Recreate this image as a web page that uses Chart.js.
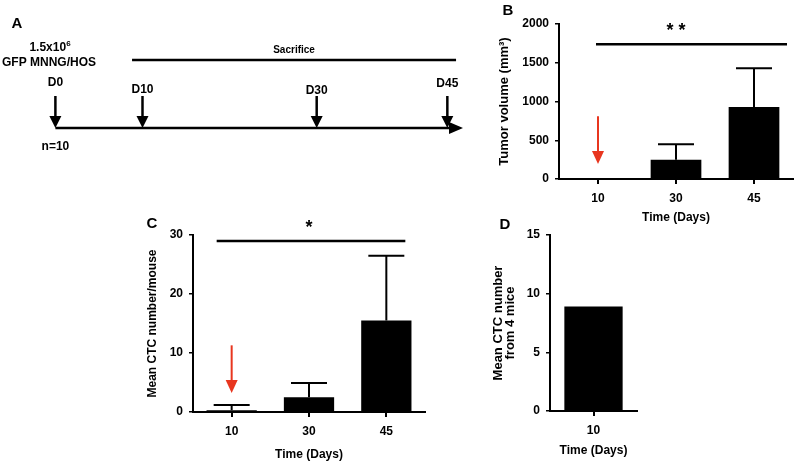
<!DOCTYPE html>
<html>
<head>
<meta charset="utf-8">
<script src="https://cdn.jsdelivr.net/npm/chart.js@4"></script>
<style>
body { margin: 0; background: #fff; }
#page { position: relative; width: 796px; height: 463px; overflow: hidden; font-family: 'Liberation Sans', Arial, sans-serif; }
canvas { position: absolute; }
.panel { position: absolute; font-weight: bold; font-size: 15px; line-height: 1; transform: translate(-50%, -50%); }
</style>
</head>
<body>
<div id="page">
  <canvas id="timeline" width="480" height="165" style="left:0;top:0"></canvas>
  <canvas id="tumorChart" width="316" height="230" style="left:480px;top:0"></canvas>
  <canvas id="ctcChart" width="300" height="273" style="left:130px;top:190px"></canvas>
  <canvas id="miceChart" width="170" height="248" style="left:490px;top:215px"></canvas>
  <div class="panel" style="left:17px;top:22px">A</div>
  <div class="panel" style="left:508px;top:9px">B</div>
  <div class="panel" style="left:152px;top:222px">C</div>
  <div class="panel" style="left:505px;top:223px">D</div>
</div>
<script>
// data
const days = ['10', '30', '45'];
const tumorVolume = [0, 250, 930];
const tumorVolumeSD = [0, 200, 500];
const ctcMouse = [0.3, 2.5, 15.5];
const ctcMouseSD = [0.9, 2.4, 11];
const miceDays = ['10'];
const ctcFourMice = [8.9];
const tumorTicks = [0, 500, 1000, 1500, 2000];
const ctcTicks = [0, 10, 20, 30];
const miceTicks = [0, 5, 10, 15];
const timelineDays = [0, 10, 30, 45];
const timelineLabels = ['D0', 'D10', 'D30', 'D45'];
const sacrificeFrom = 8.8, sacrificeTo = 46, timelineEnd = 46.8;
// significance bars and red arrows, in axis units
const tumorSig = 1740;
const ctcSig = 29;
const tumorArrow = [810, 195];
const ctcArrow = [11.3, 3.2];

const FONT = "'Liberation Sans', Arial, sans-serif";
Chart.defaults.font.family = FONT;
Chart.defaults.font.weight = 'bold';
Chart.defaults.color = '#000';

function downArrow(ctx, x, top, tip, half, head, lw, color) {
    ctx.strokeStyle = color;
    ctx.fillStyle = color;
    ctx.lineWidth = lw;
    ctx.beginPath();
    ctx.moveTo(x, top);
    ctx.lineTo(x, tip - head + 1);
    ctx.stroke();
    ctx.beginPath();
    ctx.moveTo(x - half, tip - head);
    ctx.lineTo(x + half, tip - head);
    ctx.lineTo(x, tip);
    ctx.closePath();
    ctx.fill();
}

//panel A timeline
const timelinePlugin = {
    id: 'timelineDraw',
    afterDatasetsDraw(chart) {
        const ctx = chart.ctx;
        const x = chart.scales.x;
        const pts = chart.getDatasetMeta(0).data;
        const lineY = 128;
        const labelY = [83, 90, 91, 84];
        ctx.save();
        ctx.strokeStyle = '#000';
        ctx.fillStyle = '#000';
        ctx.lineWidth = 2.5;
        const endX = x.getPixelForValue(timelineEnd);
        ctx.beginPath();
        ctx.moveTo(pts[0].x, lineY);
        ctx.lineTo(endX - 10, lineY);
        ctx.stroke();
        ctx.beginPath();
        ctx.moveTo(endX, lineY);
        ctx.lineTo(endX - 14, lineY - 6);
        ctx.lineTo(endX - 14, lineY + 6);
        ctx.closePath();
        ctx.fill();

        ctx.font = 'bold 12px ' + FONT;
        ctx.textAlign = 'center';
        ctx.textBaseline = 'middle';
        pts.forEach((p, i) => {
            downArrow(ctx, p.x, 96, lineY, 6, 12, 2.5, '#000');
            ctx.fillText(timelineLabels[i], p.x, labelY[i]);
        });
        ctx.fillText('n=10', pts[0].x, 147);
        ctx.fillText('GFP MNNG/HOS', 49, 63);
        // 1.5x10^6
        const base = '1.5x10';
        const w1 = ctx.measureText(base).width;
        ctx.font = 'bold 8px ' + FONT;
        const w2 = ctx.measureText('6').width;
        const left = 50 - (w1 + w2) / 2;
        ctx.textAlign = 'left';
        ctx.fillText('6', left + w1, 44);
        ctx.font = 'bold 12px ' + FONT;
        ctx.fillText(base, left, 48);

        // sacrifice bar
        ctx.lineWidth = 2.5;
        ctx.beginPath();
        ctx.moveTo(x.getPixelForValue(sacrificeFrom), 60);
        ctx.lineTo(x.getPixelForValue(sacrificeTo), 60);
        ctx.stroke();
        ctx.textAlign = 'center';
        ctx.font = 'bold 10px ' + FONT;
        ctx.fillText('Sacrifice', (x.getPixelForValue(sacrificeFrom) + x.getPixelForValue(sacrificeTo)) / 2, 50);
        ctx.restore();
    }
};

new Chart(document.getElementById('timeline'), {
    type: 'scatter',
    data: {
        datasets: [{ data: timelineDays.map(d => ({ x: d, y: 0.5 })), pointRadius: 0 }]
    },
    options: {
        responsive: false,
        animation: false,
        layout: { padding: 0 },
        plugins: { legend: { display: false }, tooltip: { enabled: false } },
        scales: {
            x: { type: 'linear', display: false, min: -6.36, max: 48.75 },
            y: { display: false, min: 0, max: 1 }
        }
    },
    plugins: [timelinePlugin]
});

//error bars, significance line, red arrow
const barExtras = {
    id: 'barExtras',
    afterDatasetsDraw(chart, args, opts) {
        const ctx = chart.ctx;
        const y = chart.scales.y;
        const bars = chart.getDatasetMeta(0).data;
        const vals = chart.data.datasets[0].data;
        ctx.save();
        ctx.strokeStyle = '#000';
        ctx.lineWidth = 2;
        (opts.errors || []).forEach((e, i) => {
            if (!e) return;
            const top = y.getPixelForValue(vals[i] + e);
            const base = y.getPixelForValue(vals[i]);
            ctx.beginPath();
            ctx.moveTo(bars[i].x, base);
            ctx.lineTo(bars[i].x, top);
            ctx.moveTo(bars[i].x - 18, top);
            ctx.lineTo(bars[i].x + 18, top);
            ctx.stroke();
        });
        if (opts.sig) {
            const last = bars[bars.length - 1];
            const sy = y.getPixelForValue(opts.sig.value);
            ctx.lineWidth = 2.5;
            ctx.beginPath();
            ctx.moveTo(bars[0].x + opts.sig.from, sy);
            ctx.lineTo(last.x + opts.sig.to, sy);
            ctx.stroke();
            ctx.fillStyle = '#000';
            ctx.font = 'bold 18px ' + FONT;
            ctx.textAlign = 'center';
            ctx.textBaseline = 'alphabetic';
            ctx.fillText(opts.sig.label, (bars[0].x + last.x) / 2, sy - 8);
        }
        if (opts.arrow) {
            downArrow(ctx, bars[0].x, y.getPixelForValue(opts.arrow[0]), y.getPixelForValue(opts.arrow[1]), 6, 13, 2, '#e8361f');
        }
        ctx.restore();
    }
};

function barChart(id, labels, values, cfg) {
    return new Chart(document.getElementById(id), {
        type: 'bar',
        data: {
            labels: labels,
            datasets: [{
                data: values,
                backgroundColor: '#000',
                borderWidth: 0,
                categoryPercentage: 1,
                barPercentage: cfg.barPct
            }]
        },
        options: {
            responsive: false,
            animation: false,
            layout: { padding: cfg.padding },
            plugins: {
                legend: { display: false },
                tooltip: { enabled: false },
                barExtras: cfg.extras
            },
            scales: {
                x: {
                    grid: { offset: false, drawOnChartArea: false, tickLength: 5, color: '#000', lineWidth: 2 },
                    border: { color: '#000', width: 2 },
                    ticks: { padding: 7, font: { size: 12, weight: 'bold' } },
                    title: { display: true, text: 'Time (Days)', padding: 0, font: { size: 12, weight: 'bold' } },
                    afterFit: s => { s.height = cfg.xHeight; }
                },
                y: {
                    min: cfg.ticks[0],
                    max: cfg.ticks[cfg.ticks.length - 1],
                    afterBuildTicks: s => { s.ticks = cfg.ticks.map(v => ({ value: v })); },
                    grid: { drawOnChartArea: false, tickLength: 4, color: '#000', lineWidth: 1.5 },
                    border: { color: '#000', width: 2 },
                    ticks: { padding: 6, font: { size: 12, weight: 'bold' }, callback: v => String(v) },
                    title: { display: true, text: cfg.yTitle, padding: 0, font: { size: cfg.titleSize || 12, weight: 'bold', lineHeight: cfg.titleLH || 1.2 } },
                    afterFit: s => { s.width = cfg.yWidth; }
                }
            }
        },
        plugins: [barExtras]
    });
}

barChart('tumorChart', days, tumorVolume, {
    barPct: 0.65,
    padding: { top: 24, right: 3, left: 17, bottom: 5 },
    xHeight: 46,
    yWidth: 62,
    ticks: tumorTicks,
    yTitle: 'Tumor volume (mm³)',
    titleSize: 13,
    extras: { errors: tumorVolumeSD, sig: { value: tumorSig, label: '* *', from: -2, to: 33 }, arrow: tumorArrow }
});

barChart('ctcChart', days, ctcMouse, {
    barPct: 0.65,
    padding: { top: 45, right: 5, left: 15, bottom: 1 },
    xHeight: 50,
    yWidth: 48,
    ticks: ctcTicks,
    yTitle: 'Mean CTC number/mouse',
    extras: { errors: ctcMouseSD, sig: { value: ctcSig, label: '*', from: -15, to: 19 }, arrow: ctcArrow }
});

barChart('miceChart', miceDays, ctcFourMice, {
    barPct: 0.67,
    padding: { top: 20, right: 23, left: 2, bottom: 5 },
    xHeight: 47,
    yWidth: 58,
    ticks: miceTicks,
    yTitle: ['Mean CTC number', 'from 4 mice'],
    titleSize: 13,
    titleLH: 0.95,
    extras: {}
});
</script>
</body>
</html>
